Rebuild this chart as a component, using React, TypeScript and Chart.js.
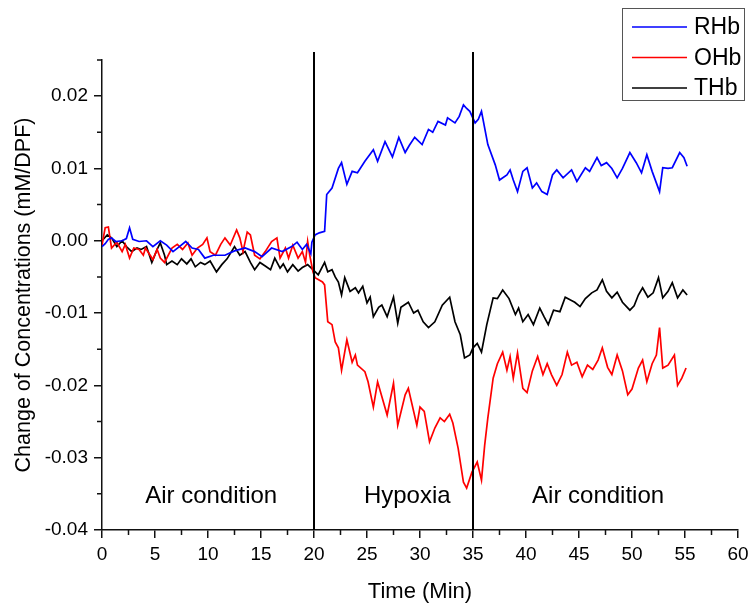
import React, { useEffect, useRef } from 'react';
import { Chart, registerables } from 'chart.js';

Chart.register(...registerables);

// ---------- data ----------
const rhbTime = [0, 0.3, 0.6, 0.9, 1.3, 1.9, 2.3, 2.6, 2.9, 3.5, 4.2, 4.8, 5.5, 6.1, 6.7, 7.3, 7.9, 8.5, 9.1, 9.7, 10.5, 11.6, 12.5, 13.5, 14.4, 15.1, 16.0, 17.0, 17.9, 18.4, 18.9, 19.3, 19.7, 19.8, 20.1, 20.5, 21.0, 21.2, 21.7, 22.3, 22.6, 23.1, 23.6, 24.1, 24.8, 25.6, 26.0, 26.7, 27.4, 28.0, 28.6, 29.0, 29.5, 30.2, 30.8, 31.2, 31.7, 32.4, 32.6, 33.3, 33.7, 34.1, 34.4, 34.7, 35.2, 35.5, 35.8, 36.4, 37.1, 37.5, 38.2, 38.5, 38.8, 39.2, 39.7, 40.1, 40.6, 41.0, 41.5, 42.0, 42.5, 42.9, 43.5, 44.3, 44.8, 45.6, 46.0, 46.7, 47.1, 47.6, 48.1, 48.6, 49.1, 49.8, 50.4, 50.9, 51.4, 51.9, 52.6, 52.9, 53.4, 53.8, 54.5, 54.9, 55.2];
const rhbValues = [-0.0008, -0.0004, 0.0002, 0.0004, -0.0001, 0.0, 0.0003, 0.0018, 0.0002, -0.0001, 0.0, -0.0008, 0.0, -0.0006, -0.0015, -0.0008, -0.0001, -0.001, -0.0012, -0.0024, -0.002, -0.002, -0.0014, -0.001, -0.0015, -0.0022, -0.001, -0.0015, -0.0008, -0.0002, -0.0012, -0.0005, -0.0018, -0.0002, 0.0008, 0.0011, 0.0013, 0.0064, 0.0073, 0.01, 0.0108, 0.0078, 0.0096, 0.0094, 0.011, 0.0126, 0.011, 0.0137, 0.0116, 0.0143, 0.0122, 0.0132, 0.0143, 0.0133, 0.0154, 0.015, 0.0165, 0.016, 0.017, 0.0163, 0.0172, 0.0188, 0.0183, 0.0179, 0.0163, 0.0168, 0.0179, 0.0133, 0.0105, 0.0084, 0.0091, 0.0098, 0.0084, 0.0068, 0.0096, 0.0101, 0.0073, 0.008, 0.0068, 0.0064, 0.0091, 0.0098, 0.0087, 0.0098, 0.0082, 0.0101, 0.0096, 0.0115, 0.0104, 0.0108, 0.01, 0.0087, 0.01, 0.0122, 0.0108, 0.0094, 0.0119, 0.0096, 0.0068, 0.0101, 0.01, 0.0101, 0.0122, 0.0115, 0.0103];

const ohbTime = [0, 0.3, 0.6, 0.9, 1.4, 1.9, 2.2, 2.6, 3.0, 3.5, 3.9, 4.1, 4.8, 5.2, 5.5, 5.9, 6.6, 7.1, 7.6, 8.1, 8.5, 9.0, 9.5, 9.9, 10.2, 10.7, 11.2, 11.6, 12.1, 12.7, 13.0, 13.3, 13.7, 14.0, 14.4, 14.9, 15.4, 16.0, 16.5, 16.8, 17.3, 17.6, 18.0, 18.5, 18.9, 19.2, 19.4, 19.6, 19.9, 20.1, 20.8, 21.0, 21.3, 21.7, 22.0, 22.3, 22.6, 23.1, 23.6, 23.9, 24.1, 24.8, 25.1, 25.6, 26.0, 26.9, 27.5, 27.9, 28.6, 28.9, 29.7, 30.0, 30.4, 30.9, 31.4, 31.9, 32.3, 32.8, 33.1, 33.6, 34.1, 34.4, 34.9, 35.4, 35.8, 36.1, 36.4, 36.9, 37.3, 37.8, 38.2, 38.5, 38.8, 39.2, 39.7, 40.1, 40.6, 41.1, 41.6, 42.0, 42.4, 42.9, 43.4, 43.9, 44.3, 44.8, 45.3, 45.8, 46.3, 46.8, 47.2, 47.7, 48.1, 48.6, 49.1, 49.6, 50.0, 50.6, 51.0, 51.4, 51.9, 52.3, 52.6, 52.9, 53.4, 54.0, 54.3, 54.7, 55.1];
const ohbValues = [-0.0006, 0.0018, 0.0019, -0.001, -0.0002, -0.0015, -0.0005, -0.0024, -0.001, -0.0012, -0.002, -0.001, -0.0026, -0.0012, -0.0024, -0.003, -0.001, -0.0005, -0.0012, -0.0003, -0.002, -0.001, -0.0005, 0.0004, -0.0015, -0.002, -0.0005, 0.0004, -0.0006, 0.0015, 0.0004, -0.0015, 0.0012, 0.0008, -0.002, -0.0025, -0.0015, -0.0001, 0.0004, -0.0024, -0.001, -0.0024, -0.0006, -0.0024, -0.0015, -0.003, -0.0001, -0.002, -0.0043, -0.0051, -0.0057, -0.0061, -0.0112, -0.0116, -0.014, -0.0148, -0.0179, -0.0137, -0.0168, -0.0158, -0.0172, -0.0181, -0.0195, -0.023, -0.0195, -0.0241, -0.0197, -0.0255, -0.0213, -0.0204, -0.0255, -0.023, -0.0236, -0.0278, -0.0259, -0.0245, -0.025, -0.024, -0.0252, -0.0287, -0.0334, -0.0342, -0.032, -0.0306, -0.0331, -0.0283, -0.0245, -0.019, -0.017, -0.0154, -0.0179, -0.016, -0.019, -0.0155, -0.0204, -0.021, -0.018, -0.016, -0.0185, -0.017, -0.0185, -0.02, -0.0185, -0.0154, -0.0172, -0.0168, -0.0188, -0.0172, -0.0178, -0.0165, -0.0148, -0.0175, -0.0185, -0.0158, -0.018, -0.0213, -0.0205, -0.0176, -0.0165, -0.0195, -0.017, -0.0158, -0.012, -0.0176, -0.0172, -0.0158, -0.02, -0.019, -0.0176];

const thbTime = [0, 0.5, 0.9, 1.4, 1.9, 2.3, 2.8, 3.3, 3.7, 4.2, 4.7, 5.2, 5.5, 5.9, 6.1, 6.6, 7.1, 7.5, 8.0, 8.4, 8.8, 9.3, 9.7, 10.2, 10.8, 11.3, 11.8, 12.5, 13.0, 13.5, 14.0, 14.4, 14.9, 15.4, 15.9, 16.3, 16.8, 17.1, 17.5, 18.0, 18.5, 18.9, 19.4, 19.9, 20.4, 21.0, 21.3, 21.7, 22.0, 22.3, 22.6, 22.9, 23.4, 23.9, 24.2, 24.6, 25.0, 25.3, 25.6, 26.1, 26.4, 26.9, 27.5, 27.9, 28.2, 28.9, 29.4, 29.8, 30.3, 30.8, 31.4, 32.1, 32.8, 33.3, 33.8, 34.2, 34.7, 35.0, 35.4, 35.8, 36.3, 36.9, 37.3, 37.8, 38.4, 39.0, 39.3, 39.7, 40.2, 40.7, 41.3, 41.7, 42.1, 42.6, 43.2, 43.7, 44.2, 44.6, 45.1, 45.6, 46.2, 46.7, 47.2, 47.6, 48.1, 48.6, 49.1, 49.8, 50.2, 50.6, 51.0, 51.5, 52.0, 52.5, 52.9, 53.4, 53.8, 54.3, 54.8, 55.2];
const thbValues = [0.0, 0.0008, 0.0004, -0.0008, 0.0, -0.0008, -0.0015, -0.001, -0.0012, -0.0008, -0.003, -0.0012, -0.0003, -0.002, -0.0033, -0.0028, -0.0033, -0.0025, -0.0032, -0.0025, -0.0036, -0.003, -0.0033, -0.0028, -0.0043, -0.0033, -0.0025, -0.0008, -0.002, -0.0015, -0.003, -0.004, -0.003, -0.0035, -0.004, -0.0024, -0.0038, -0.0032, -0.0043, -0.0033, -0.0042, -0.0037, -0.0033, -0.004, -0.0047, -0.003, -0.0043, -0.004, -0.005, -0.0057, -0.0075, -0.0051, -0.007, -0.0065, -0.0072, -0.0063, -0.0086, -0.0078, -0.0105, -0.0092, -0.0089, -0.0105, -0.0078, -0.0114, -0.0092, -0.0085, -0.01, -0.0096, -0.0112, -0.012, -0.0112, -0.0089, -0.0078, -0.0112, -0.013, -0.0162, -0.0158, -0.0148, -0.0142, -0.0154, -0.0116, -0.0079, -0.008, -0.0068, -0.008, -0.0102, -0.0093, -0.0112, -0.0102, -0.0116, -0.0093, -0.0105, -0.0116, -0.0096, -0.0098, -0.0078, -0.0082, -0.0085, -0.0091, -0.008, -0.0072, -0.0068, -0.0054, -0.007, -0.0079, -0.0071, -0.0085, -0.0096, -0.009, -0.0075, -0.0065, -0.0078, -0.0072, -0.0051, -0.0079, -0.007, -0.0058, -0.0079, -0.0068, -0.0075];

const seriesNames = ['RHb', 'OHb', 'THb'];
const seriesColors = ['#0000ff', '#ff0000', '#000000'];

const xTicks = [0, 5, 10, 15, 20, 25, 30, 35, 40, 45, 50, 55, 60];
const xMinorTicks = [2.5, 7.5, 12.5, 17.5, 22.5, 27.5, 32.5, 37.5, 42.5, 47.5, 52.5, 57.5];
const yTicks = [-0.04, -0.03, -0.02, -0.01, 0, 0.01, 0.02];
const yMinorTicks = [-0.035, -0.025, -0.015, -0.005, 0.005, 0.015, 0.025];

const eventTimes = [20, 35];
const phaseLabels = ['Air condition', 'Hypoxia', 'Air condition'];
const phaseLabelTimes = [10.3, 28.8, 46.8];
const phaseLabelValues = [-0.0363, -0.0363, -0.0363];

const FONT = '"Liberation Sans", Arial, Helvetica, sans-serif';

const overlayPlugin = {
  id: 'overlay',
  afterDatasetsDraw(chart: any) {
    const { ctx, chartArea, scales } = chart;
    const xs = scales.x;
    const ys = scales.y;
    ctx.save();
    ctx.strokeStyle = '#000';
    ctx.lineWidth = 2;
    eventTimes.forEach((t) => {
      const px = Math.round(xs.getPixelForValue(t));
      ctx.beginPath();
      ctx.moveTo(px, chartArea.top - 8);
      ctx.lineTo(px, chartArea.bottom);
      ctx.stroke();
    });
    ctx.fillStyle = '#000';
    ctx.font = `24px ${FONT}`;
    ctx.textAlign = 'center';
    ctx.textBaseline = 'alphabetic';
    phaseLabels.forEach((s, i) => {
      ctx.fillText(s, xs.getPixelForValue(phaseLabelTimes[i]), ys.getPixelForValue(phaseLabelValues[i]));
    });
    ctx.restore();
  },
  afterDraw(chart: any) {
    const { ctx, chartArea, scales } = chart;
    const xs = scales.x;
    const ys = scales.y;
    ctx.save();
    ctx.strokeStyle = '#111';
    ctx.lineWidth = 1.5;
    ctx.beginPath();
    xMinorTicks.forEach((t) => {
      const px = xs.getPixelForValue(t);
      ctx.moveTo(px, chartArea.bottom);
      ctx.lineTo(px, chartArea.bottom + 5);
    });
    yMinorTicks.forEach((v) => {
      const py = ys.getPixelForValue(v);
      ctx.moveTo(chartArea.left, py);
      ctx.lineTo(chartArea.left - 5, py);
    });
    ctx.stroke();

    const bx = 622.5, by = 8.5, bw = 122, bh = 92;
    ctx.strokeStyle = '#555';
    ctx.lineWidth = 1;
    ctx.strokeRect(bx, by, bw, bh);
    ctx.font = `23px ${FONT}`;
    ctx.textAlign = 'left';
    ctx.textBaseline = 'middle';
    chart.data.datasets.forEach((ds: any, i: number) => {
      const rowY = 27 + i * 30.5;
      ctx.strokeStyle = ds.borderColor;
      ctx.lineWidth = 1.5;
      ctx.beginPath();
      ctx.moveTo(632, rowY);
      ctx.lineTo(687, rowY);
      ctx.stroke();
      ctx.fillStyle = '#000';
      ctx.fillText(ds.label, 694, rowY + 1);
    });
    ctx.restore();
  },
};

export default function App() {
  const canvasRef = useRef<HTMLCanvasElement | null>(null);

  useEffect(() => {
    const canvas = canvasRef.current;
    if (!canvas) return;
    const times = [rhbTime, ohbTime, thbTime];
    const values = [rhbValues, ohbValues, thbValues];
    const datasets = seriesNames.map((name, i) => ({
      label: name,
      data: times[i].map((t, j) => ({ x: t, y: values[i][j] })),
      borderColor: seriesColors[i],
      backgroundColor: seriesColors[i],
      borderWidth: 1.7,
      pointRadius: 0,
      tension: 0,
      fill: false,
    }));

    const chart = new Chart(canvas, {
      type: 'line',
      data: { datasets },
      options: {
        responsive: false,
        animation: false,
        devicePixelRatio: 1,
        layout: { padding: { top: 60, right: 12, left: 0, bottom: 0 } },
        plugins: {
          legend: { display: false },
          tooltip: { enabled: false },
        },
        scales: {
          x: {
            type: 'linear',
            min: 0,
            max: 60,
            afterBuildTicks: (scale: any) => {
              scale.ticks = xTicks.map((v) => ({ value: v }));
            },
            afterFit: (scale: any) => {
              scale.height = 77;
              scale.paddingLeft = 0;
              scale.paddingRight = 0;
            },
            grid: {
              display: true,
              drawOnChartArea: false,
              drawTicks: true,
              tickLength: 8,
              color: '#111',
              lineWidth: 1.5,
            },
            border: { display: true, color: '#111', width: 1.5 },
            ticks: {
              color: '#000',
              font: { family: FONT, size: 19 },
              padding: 5,
              maxRotation: 0,
              autoSkip: false,
              callback: (v: any) => String(v),
            },
            title: {
              display: true,
              text: 'Time (Min)',
              color: '#000',
              font: { family: FONT, size: 22 },
              padding: { top: 0, bottom: 2 },
            },
          },
          y: {
            type: 'linear',
            min: -0.04,
            max: 0.025,
            afterBuildTicks: (scale: any) => {
              scale.ticks = yTicks.map((v) => ({ value: v }));
            },
            afterFit: (scale: any) => {
              scale.width = 102;
              scale.paddingTop = 0;
              scale.paddingBottom = 0;
            },
            grid: {
              display: true,
              drawOnChartArea: false,
              drawTicks: true,
              tickLength: 8,
              color: '#111',
              lineWidth: 1.5,
            },
            border: { display: true, color: '#111', width: 1.5 },
            ticks: {
              color: '#000',
              font: { family: FONT, size: 19 },
              padding: 6,
              autoSkip: false,
              callback: (v: any) => Number(v).toFixed(2),
            },
            title: {
              display: true,
              text: 'Change of Concentrations (mM/DPF)',
              color: '#000',
              font: { family: FONT, size: 21.5 },
              padding: { top: 11, bottom: 0 },
            },
          },
        },
      },
      plugins: [overlayPlugin],
    } as any);

    return () => {
      chart.destroy();
    };
  }, []);

  return (
    <div style={{ position: 'absolute', left: 0, top: 0, width: 750, height: 607, background: '#fff' }}>
      <canvas ref={canvasRef} width={750} height={607} style={{ display: 'block', width: 750, height: 607 }} />
    </div>
  );
}
